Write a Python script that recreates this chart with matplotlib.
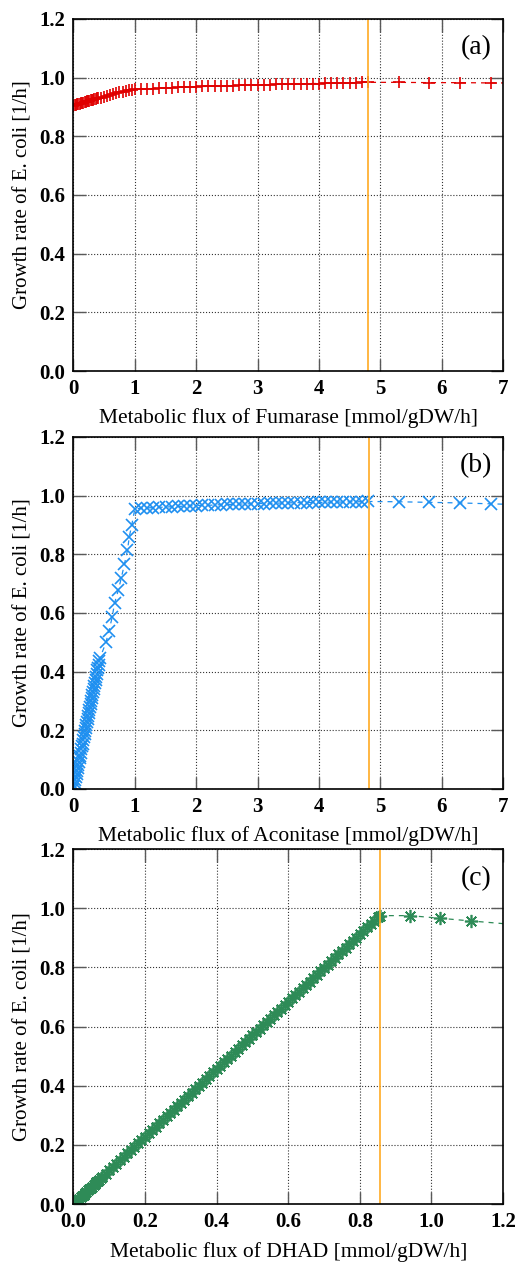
import matplotlib
matplotlib.use("Agg")
import matplotlib.pyplot as plt
from matplotlib.ticker import FormatStrFormatter

plt.rcParams['font.family'] = ['Liberation Serif', 'DejaVu Serif']

# (a) Fumarase
fum_x = [0.00, 0.02, 0.04, 0.06, 0.08, 0.10, 0.12, 0.14, 0.16, 0.18, 0.20,
         0.22, 0.24, 0.26, 0.28, 0.30, 0.32, 0.34, 0.36, 0.38, 0.40,
         0.45, 0.50, 0.55, 0.60, 0.65, 0.70, 0.75, 0.80, 0.85, 0.90, 0.95,
         1.0, 1.1, 1.2, 1.3, 1.4, 1.5, 1.6, 1.7, 1.8, 1.9, 2.0, 2.1, 2.2,
         2.3, 2.4, 2.5, 2.6, 2.7, 2.8, 2.9, 3.0, 3.1, 3.2, 3.3, 3.4, 3.5,
         3.6, 3.7, 3.8, 3.9, 4.0, 4.1, 4.2, 4.3, 4.4, 4.5, 4.6, 4.7, 4.8,
         5.3, 5.8, 6.3, 6.8, 7.3]
fum_y = [0.905, 0.906, 0.908, 0.909, 0.910, 0.911, 0.913, 0.914, 0.915, 0.916, 0.918,
         0.919, 0.920, 0.921, 0.923, 0.924, 0.925, 0.926, 0.928, 0.929, 0.930,
         0.932, 0.935, 0.938, 0.941, 0.944, 0.947, 0.950, 0.952, 0.955, 0.957, 0.959,
         0.960, 0.961, 0.962, 0.963, 0.964, 0.965, 0.966, 0.967, 0.968, 0.968, 0.969, 0.970, 0.970,
         0.971, 0.972, 0.972, 0.973, 0.974, 0.974, 0.975, 0.975, 0.976, 0.976, 0.977, 0.977, 0.978,
         0.978, 0.979, 0.979, 0.980, 0.980, 0.981, 0.981, 0.982, 0.982, 0.983, 0.983, 0.984, 0.984,
         0.984, 0.983, 0.983, 0.982, 0.982]

# (b) Aconitase
aco_x = [0.00, 0.01, 0.02, 0.03, 0.04, 0.05, 0.06, 0.07, 0.08, 0.09, 0.10,
         0.11, 0.12, 0.13, 0.14, 0.15, 0.16, 0.17, 0.18, 0.19, 0.20, 0.21,
         0.22, 0.23, 0.24, 0.25, 0.26, 0.27, 0.28, 0.29, 0.30, 0.31, 0.32,
         0.33, 0.34, 0.35, 0.36, 0.37, 0.38, 0.39, 0.40, 0.41, 0.42, 0.43,
         0.53, 0.58, 0.63, 0.67, 0.73, 0.78, 0.83, 0.88, 0.91, 0.95,
         1.0, 1.1, 1.2, 1.3, 1.4, 1.5, 1.6, 1.7, 1.8, 1.9, 2.0, 2.1, 2.2,
         2.3, 2.4, 2.5, 2.6, 2.7, 2.8, 2.9, 3.0, 3.1, 3.2, 3.3, 3.4, 3.5,
         3.6, 3.7, 3.8, 3.9, 4.0, 4.1, 4.2, 4.3, 4.4, 4.5, 4.6, 4.7, 4.8,
         5.3, 5.8, 6.3, 6.8, 7.3]
aco_y = [0.000, 0.010, 0.021, 0.031, 0.041, 0.052, 0.062, 0.072, 0.083, 0.093, 0.104,
         0.114, 0.124, 0.135, 0.145, 0.155, 0.166, 0.176, 0.186, 0.197, 0.207, 0.217,
         0.228, 0.238, 0.248, 0.259, 0.269, 0.279, 0.290, 0.300, 0.311, 0.321, 0.331,
         0.342, 0.352, 0.362, 0.373, 0.383, 0.393, 0.404, 0.414, 0.424, 0.435, 0.445,
         0.500, 0.540, 0.585, 0.634, 0.677, 0.720, 0.766, 0.814, 0.860, 0.900,
         0.955, 0.957, 0.958, 0.959, 0.960, 0.961, 0.962, 0.963, 0.964, 0.965, 0.966, 0.967, 0.967,
         0.968, 0.969, 0.970, 0.970, 0.971, 0.972, 0.972, 0.973, 0.973, 0.974, 0.974, 0.975, 0.975,
         0.976, 0.976, 0.976, 0.977, 0.977, 0.977, 0.978, 0.978, 0.978, 0.979, 0.979, 0.979, 0.980,
         0.979, 0.977, 0.975, 0.972, 0.969]

# (c) DHAD
dhad_x = [0.000, 0.004, 0.008, 0.012, 0.016, 0.020, 0.024, 0.028, 0.032, 0.036,
          0.040, 0.044, 0.048, 0.052, 0.056, 0.060, 0.064, 0.068, 0.072, 0.076, 0.080,
          0.09, 0.10, 0.11, 0.12, 0.13, 0.14, 0.15, 0.16, 0.17, 0.18, 0.19, 0.20,
          0.21, 0.22, 0.23, 0.24, 0.25, 0.26, 0.27, 0.28, 0.29, 0.30, 0.31, 0.32,
          0.33, 0.34, 0.35, 0.36, 0.37, 0.38, 0.39, 0.40, 0.41, 0.42, 0.43, 0.44,
          0.45, 0.46, 0.47, 0.48, 0.49, 0.50, 0.51, 0.52, 0.53, 0.54, 0.55, 0.56,
          0.57, 0.58, 0.59, 0.60, 0.61, 0.62, 0.63, 0.64, 0.65, 0.66, 0.67, 0.68,
          0.69, 0.70, 0.71, 0.72, 0.73, 0.74, 0.75, 0.76, 0.77, 0.78, 0.79, 0.80,
          0.81, 0.82, 0.83, 0.84, 0.85, 0.855,
          0.94, 1.025, 1.11, 1.28]
dhad_y = [0.000, 0.005, 0.009, 0.014, 0.018, 0.023, 0.027, 0.032, 0.036, 0.041,
          0.046, 0.050, 0.055, 0.059, 0.064, 0.068, 0.073, 0.078, 0.082, 0.087, 0.091,
          0.103, 0.114, 0.125, 0.137, 0.148, 0.160, 0.171, 0.182, 0.194, 0.205, 0.217, 0.228,
          0.239, 0.251, 0.262, 0.274, 0.285, 0.296, 0.308, 0.319, 0.331, 0.342, 0.353, 0.365,
          0.376, 0.388, 0.399, 0.410, 0.422, 0.433, 0.445, 0.456, 0.467, 0.479, 0.490, 0.502,
          0.513, 0.524, 0.536, 0.547, 0.559, 0.570, 0.581, 0.593, 0.604, 0.616, 0.627, 0.638,
          0.650, 0.661, 0.673, 0.684, 0.695, 0.707, 0.718, 0.730, 0.741, 0.752, 0.764, 0.775,
          0.787, 0.798, 0.809, 0.821, 0.832, 0.844, 0.855, 0.866, 0.878, 0.889, 0.901, 0.912,
          0.923, 0.935, 0.946, 0.958, 0.969, 0.975,
          0.975, 0.966, 0.957, 0.940]

panels = [
    (fum_x, fum_y, '#e00000', '+', 9, 4.8, 7, 'Metabolic flux of Fumarase [mmol/gDW/h]', '(a)'),
    (aco_x, aco_y, '#1e8ff0', 'x', 8, 4.82, 7, 'Metabolic flux of Aconitase [mmol/gDW/h]', '(b)'),
    (dhad_x, dhad_y, '#2e8b57', (8, 2, 0), 9.5, 0.855, 1.2, 'Metabolic flux of DHAD [mmol/gDW/h]', '(c)'),
]
rects = [[0.1424, 0.7067, 0.8324, 0.2783],
         [0.1424, 0.3763, 0.8324, 0.2783],
         [0.1424, 0.0482, 0.8324, 0.2806]]

fig = plt.figure(figsize=(5.16, 12.65), dpi=100)

for (xs, ys, col, mk, ms, vline, xmax, xlab, tag), r in zip(panels, rects):
    ax = fig.add_axes(r)
    ax.plot(xs, ys, color=col, linestyle=(0, (4, 4)), linewidth=0.9,
            marker=mk, markersize=ms, markeredgewidth=1.2)
    ax.axvline(vline, color='#ffaa22', linewidth=1.2)
    ax.set_xlim(0, xmax)
    ax.set_ylim(0, 1.2)
    ax.set_yticks([0, 0.2, 0.4, 0.6, 0.8, 1.0, 1.2])
    if xmax == 7:
        ax.set_xticks(range(0, 8))
    else:
        ax.set_xticks([0, 0.2, 0.4, 0.6, 0.8, 1.0, 1.2])
        ax.xaxis.set_major_formatter(FormatStrFormatter('%.1f'))
    ax.yaxis.set_major_formatter(FormatStrFormatter('%.1f'))
    ax.grid(True, color='0.2', linestyle=':', linewidth=0.8)
    ax.tick_params(direction='in', length=9, width=1, color='0.35',
                   top=True, right=True, labelsize=15, pad=6)
    for lbl in ax.get_xticklabels() + ax.get_yticklabels():
        lbl.set_fontweight('bold')
    for s in ax.spines.values():
        s.set_linewidth(1.2)
    ax.set_xlabel(xlab, fontsize=15.5, va='center')
    ax.set_ylabel('Growth rate of E. coli [1/h]', fontsize=15, va='center')
    ax.xaxis.set_label_coords(0.5, -0.134)
    ax.yaxis.set_label_coords(-0.118, 0.5)
    ax.text(0.974, 0.918, tag, transform=ax.transAxes, ha='right', va='center', fontsize=20)

fig.savefig('out.png', dpi=100)
